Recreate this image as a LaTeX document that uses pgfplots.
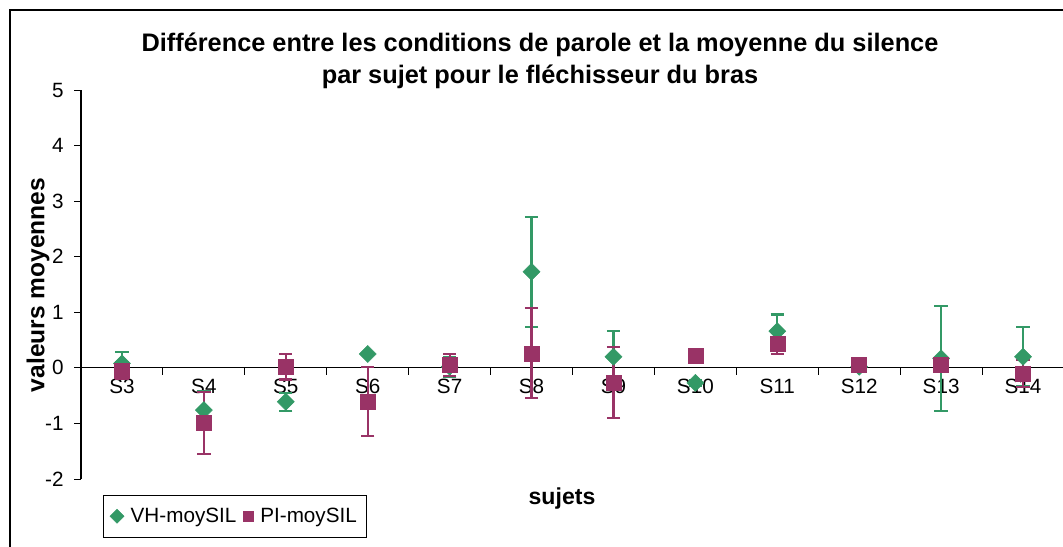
\documentclass[border=0pt]{standalone}
\usepackage{pgfplots}
\pgfplotsset{compat=1.18}
\usepackage{pgfplotstable}
\usepackage{fontspec}
\setmainfont{Liberation Sans}
\definecolor{vhgreen}{RGB}{51,153,102}
\definecolor{pimag}{RGB}{153,51,102}

\pgfplotstableread{
x y e
0 0.08 0.20
1 -0.76 0.35
2 -0.61 0.16
3 0.25 0.02
4 0.02 0.18
5 1.73 0.99
6 0.20 0.46
7 -0.27 0.05
8 0.66 0.30
9 0.02 0.04
10 0.17 0.94
11 0.20 0.53
}\vhdata

\pgfplotstableread{
x y e
0 -0.05 0.15
1 -0.99 0.56
2 0.02 0.23
3 -0.61 0.62
4 0.05 0.20
5 0.26 0.81
6 -0.27 0.64
7 0.22 0.04
8 0.44 0.19
9 0.05 0.04
10 0.05 0.05
11 -0.10 0.24
}\pidata

\begin{document}
\begin{tikzpicture}[x=0.75pt,y=0.75pt]
\path[use as bounding box] (0,0) rectangle (1063,546);
\draw[line width=0.8pt] (10,-60) -- (10,536) -- (1100,536);
\node[font=\bfseries\fontsize{19}{22}\selectfont] at (540,501) {Différence entre les conditions de parole et la moyenne du silence};
\node[font=\bfseries\fontsize{19}{22}\selectfont] at (540,469) {par sujet pour le fléchisseur du bras};
\node[rotate=90, font=\bfseries\fontsize{18.4}{22}\selectfont] at (38,261) {valeurs moyennes};
\node[font=\bfseries\fontsize{17.3}{20}\selectfont] at (562,47) {sujets};
\coordinate (axSW) at (81,67);
\begin{axis}[
  at={(axSW)}, anchor=south west,
  scale only axis, width=737.25pt, height=291.75pt,
  xmin=-0.5, xmax=11.5, ymin=-2, ymax=5,
  axis x line=middle, axis y line=left,
  axis line style={-, line width=0.8pt},
  hide obscured x ticks=false, hide obscured y ticks=false,
  xtick={-0.5,0.5,...,11.5},
  x tick label as interval,
  xticklabels={S3,S4,S5,S6,S7,S8,S9,S10,S11,S12,S13,S14},
  ytick={-2,-1,0,1,2,3,4,5},
  yticklabels={-2,-1,0,1,2,3,4,5},
  tick align=outside,
  major tick length=5pt,
  tick style={black, line width=0.7pt},
  ticklabel style={font=\fontsize{15.5}{18}\selectfont},
  yticklabel style={xshift=-4.5pt},
  clip=false,
  every error bar/.append style={line width=1.6pt},
  legend style={at={(axis description cs:0.0224,-0.041)}, anchor=north west,
    draw=black, line width=0.6pt, legend columns=2,
    font=\fontsize{15.5}{18}\selectfont, inner ysep=7.5pt, inner xsep=5pt,
    /tikz/every odd column/.append style={column sep=3pt},
    /tikz/every even column/.append style={column sep=3pt}},
]
\addplot[only marks, line width=1.6pt, mark=square*, mark options={rotate=45, line width=0.4pt}, mark size=4.5pt, color=vhgreen,
  legend image post style={mark size=3.7pt},
  error bars/.cd, y dir=both, y explicit,
  error bar style={line width=1.6pt, vhgreen},
  error mark options={rotate=90, line width=1.6pt, mark size=5pt, vhgreen}]
  table[x=x, y=y, y error=e] {\vhdata};
\addplot[only marks, line width=1.6pt, mark=square*, mark options={line width=0.4pt}, mark size=5.6pt, color=pimag,
  legend image post style={mark size=4pt},
  error bars/.cd, y dir=both, y explicit,
  error bar style={line width=1.6pt, pimag},
  error mark options={rotate=90, line width=1.6pt, mark size=5pt, pimag}]
  table[x=x, y=y, y error=e] {\pidata};
\legend{VH-moySIL, PI-moySIL}
\end{axis}
\end{tikzpicture}
\end{document}
